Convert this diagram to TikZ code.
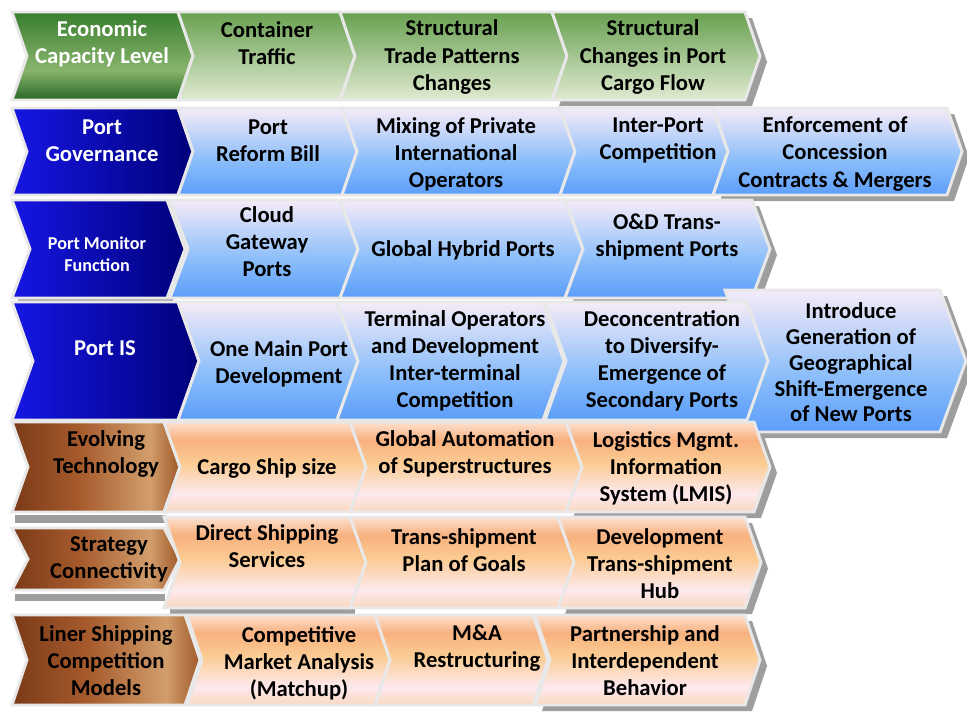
\documentclass[tikz,border=0pt]{standalone}
\usepackage{fontspec}
\setmainfont{Carlito}
\usepackage{xcolor}

\definecolor{edgegray}{RGB}{232,232,232}
\definecolor{shadowgray}{RGB}{158,158,158}
\definecolor{ghdark}{RGB}{40,104,38}
\definecolor{ghlight}{RGB}{136,180,108}
\definecolor{ghtop}{RGB}{56,126,48}
\definecolor{gitop}{RGB}{104,160,80}
\definecolor{gibot}{RGB}{224,234,210}
\definecolor{bhleft}{RGB}{22,22,228}
\definecolor{bhright}{RGB}{0,0,122}
\definecolor{bitop}{RGB}{245,235,248}
\definecolor{bimid}{RGB}{140,190,250}
\definecolor{bibot}{RGB}{92,158,250}
\definecolor{brA}{RGB}{122,58,24}
\definecolor{brB}{RGB}{166,90,44}
\definecolor{brC}{RGB}{210,158,108}
\definecolor{brD}{RGB}{158,88,40}
\definecolor{orA}{RGB}{252,224,208}
\definecolor{orB}{RGB}{248,177,126}
\definecolor{orC}{RGB}{251,204,148}
\definecolor{orD}{RGB}{253,233,238}
\definecolor{orE}{RGB}{250,216,192}

% fills of the four colour families
\pgfdeclareverticalshading{greenhead}{100bp}{color(0bp)=(ghdark); color(25bp)=(ghdark); color(42bp)=(ghlight); color(75bp)=(ghtop); color(100bp)=(ghtop)}
\pgfdeclareverticalshading{greenitem}{100bp}{color(0bp)=(gibot); color(25bp)=(gibot); color(75bp)=(gitop); color(100bp)=(gitop)}
\pgfdeclarehorizontalshading{bluehead}{100bp}{color(0bp)=(bhleft); color(25bp)=(bhleft); color(75bp)=(bhright); color(100bp)=(bhright)}
\pgfdeclareverticalshading{blueitem}{100bp}{color(0bp)=(bibot); color(25bp)=(bibot); color(45bp)=(bimid); color(75bp)=(bitop); color(100bp)=(bitop)}
\pgfdeclarehorizontalshading{brownhead}{100bp}{color(0bp)=(brA); color(25bp)=(brA); color(45bp)=(brB); color(66bp)=(brC); color(75bp)=(brD); color(100bp)=(brD)}
\pgfdeclareverticalshading{orangeitem}{100bp}{color(0bp)=(orE); color(25bp)=(orE); color(35bp)=(orD); color(52bp)=(orC); color(65bp)=(orB); color(75bp)=(orA); color(100bp)=(orA)}

% chevron: style, left x, right x, top y, bottom y, point depth
\newcommand{\chevron}[6]{%
  \path[#1] (#2,#4) -- (#3,#4) -- ({#3+#6},{(#4+#5)/2}) -- (#3,#5) -- (#2,#5) -- ({#2+#6},{(#4+#5)/2}) -- cycle;}

\begin{document}
\begin{tikzpicture}[
    x=0.75pt, y=-0.75pt,
    cell/.style={draw=edgegray, line width=2.2pt, line join=miter, shade},
    greenhd/.style={cell, shading=greenhead},
    greenit/.style={cell, shading=greenitem},
    bluehd/.style={cell, shading=bluehead},
    blueit/.style={cell, shading=blueitem},
    brownhd/.style={cell, shading=brownhead},
    orangeit/.style={cell, shading=orangeitem},
    drop/.style={fill=shadowgray, shift={(7,6)}},
    lbl/.style={align=center, inner sep=0pt, font=\fontsize{17}{20.3}\selectfont\bfseries},
    hdlbl/.style={lbl, text=white}
]
    \fill[white] (0,0) rectangle (967,715);
    \useasboundingbox (0,0) rectangle (967,715);

    % shadows behind the row ends
    \chevron{drop}{552}{745}{12}{100}{15}
    \chevron{drop}{713}{947}{108}{195}{15}
    \chevron{drop, shift={(-2,-1)}}{12}{167}{200}{298}{18}
    \chevron{drop}{565}{752}{200}{298}{18}
    \chevron{drop}{725}{940}{290}{432}{26}
    \chevron{drop}{566}{754}{422}{512}{16}
    \chevron{drop}{558}{745}{517}{608}{16}
    \chevron{drop}{535}{745}{615}{705}{15}
    \fill[shadowgray] (15,515) rectangle (165,523);
    \fill[shadowgray] (15,594) rectangle (165,601);
    \fill[shadowgray] (170,608) rectangle (355,614);

    % economic row
    \chevron{greenhd}{12}{178}{12}{100}{15}
    \chevron{greenit}{178}{340}{12}{100}{15}
    \chevron{greenit}{340}{552}{12}{100}{15}
    \chevron{greenit}{552}{745}{12}{100}{15}

    % governance row
    \chevron{bluehd}{12}{178}{108}{195}{15}
    \chevron{blueit}{178}{342}{108}{195}{15}
    \chevron{blueit}{342}{560}{108}{195}{15}
    \chevron{blueit}{560}{713}{108}{195}{15}
    \chevron{blueit}{713}{947}{108}{195}{15}

    % monitor row
    \chevron{bluehd}{12}{167}{200}{298}{18}
    \chevron{blueit}{170}{340}{200}{298}{18}
    \chevron{blueit}{340}{565}{200}{298}{18}
    \chevron{blueit}{565}{752}{200}{298}{18}

    % port IS row, the last one sits behind its neighbour
    \chevron{bluehd}{12}{178}{302}{420}{21}
    \chevron{blueit}{178}{337}{302}{420}{21}
    \chevron{blueit}{337}{543}{302}{420}{21}
    \chevron{blueit}{725}{940}{290}{432}{26}
    \chevron{blueit}{545}{747}{302}{420}{21}

    % technology row
    \chevron{brownhd}{12}{164}{422}{512}{16}
    \chevron{orangeit}{164}{350}{422}{512}{16}
    \chevron{orangeit}{350}{566}{422}{512}{16}
    \chevron{orangeit}{566}{754}{422}{512}{16}

    % connectivity row
    \chevron{brownhd}{12}{164}{528}{590}{16}
    \chevron{orangeit}{164}{350}{517}{608}{16}
    \chevron{orangeit}{350}{558}{517}{608}{16}
    \chevron{orangeit}{558}{745}{517}{608}{16}

    % competition row
    \chevron{brownhd}{12}{185}{615}{705}{15}
    \chevron{orangeit}{187}{375}{615}{705}{15}
    \chevron{orangeit}{375}{533}{615}{705}{15}
    \chevron{orangeit}{535}{745}{615}{705}{15}

    % labels
    \node[hdlbl] (econ) at (102,43.5) {Economic\\Capacity Level};
    \node[lbl] (container) at (267,43.5) {Container\\Traffic};
    \node[lbl] (tradechg) at (452,57) {Structural\\Trade Patterns\\Changes};
    \node[lbl] (cargoflow) at (653,57) {Structural\\Changes in Port\\Cargo Flow};

    \node[hdlbl] (govern) at (102,140.5) {Port\\Governance};
    \node[lbl] (reform) at (268,140.5) {Port\\Reform Bill};
    \node[lbl] (mixing) at (456,154) {Mixing of Private\\International\\Operators};
    \node[lbl] (interport) at (658,140.5) {Inter-Port\\Competition};
    \node[lbl] (enforce) at (835,154) {Enforcement of\\Concession\\Contracts \& Mergers};

    \node[hdlbl, font=\fontsize{13.6}{16.5}\selectfont\bfseries] (monitor) at (97,254) {Port Monitor\\Function};
    \node[lbl] (cloud) at (267,242) {Cloud\\Gateway\\Ports};
    \node[lbl] (hybrid) at (463,250) {Global Hybrid Ports};
    \node[lbl] (odtrans) at (667,236.5) {O\&D Trans-\\shipment Ports};

    \node[hdlbl] (portis) at (105,348) {Port IS};
    \node[lbl] (onemain) at (279,363.5) {One Main Port\\Development};
    \node[lbl] (terminal) at (455,360.5) {Terminal Operators\\and Development\\Inter-terminal\\Competition};
    \node[lbl] (deconc) at (662,360.5) {Deconcentration\\to Diversify-\\Emergence of\\Secondary Ports};
    \node[lbl, font=\fontsize{17}{19.3}\selectfont\bfseries] (newports) at (851,362.5) {Introduce\\Generation of\\Geographical\\Shift-Emergence\\of New Ports};

    \node[lbl] (evolving) at (106,454) {Evolving\\Technology};
    \node[lbl] (shipsize) at (267,468) {Cargo Ship size};
    \node[lbl] (automation) at (465,454) {Global Automation\\of Superstructures};
    \node[lbl] (lmis) at (666,468) {Logistics Mgmt.\\Information\\System (LMIS)};

    \node[lbl] (strategy) at (109,559.5) {Strategy\\Connectivity};
    \node[lbl] (direct) at (267,546.5) {Direct Shipping\\Services};
    \node[lbl] (transplan) at (464,550.5) {Trans-shipment\\Plan of Goals};
    \node[lbl] (hub) at (660,564) {Development\\Trans-shipment\\Hub};

    \node[lbl] (liner) at (106,661) {Liner Shipping\\Competition\\Models};
    \node[lbl] (market) at (299,663.5) {Competitive\\Market Analysis\\(Matchup)};
    \node[lbl] (merger) at (477,648) {M\&A\\Restructuring};
    \node[lbl] (partner) at (645,661) {Partnership and\\Interdependent\\Behavior};
\end{tikzpicture}
\end{document}
